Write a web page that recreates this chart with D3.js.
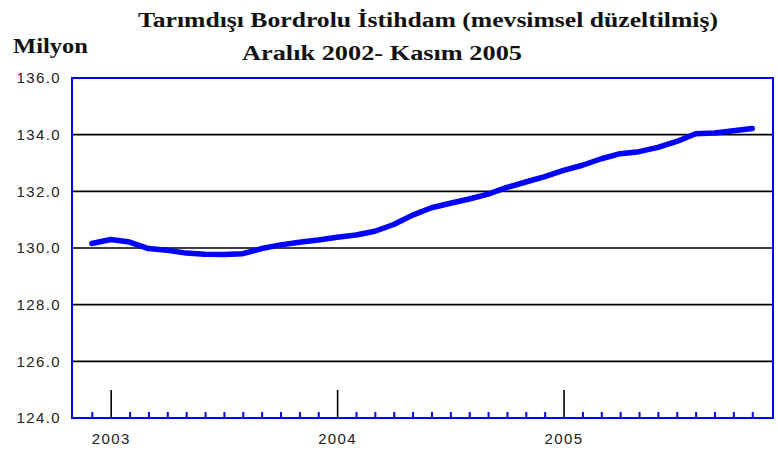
<!DOCTYPE html>
<html>
<head>
<meta charset="utf-8">
<script src="https://cdn.jsdelivr.net/npm/d3@7"></script>
<style>
  body { margin: 0; background: #fff; }
  svg { display: block; }
</style>
</head>
<body>
<div id="root"></div>
<script>
// Data: monthly, Dec 2002 - Nov 2005, millions
const months = [
  "2002-12",
  "2003-01", "2003-02", "2003-03", "2003-04", "2003-05", "2003-06",
  "2003-07", "2003-08", "2003-09", "2003-10", "2003-11", "2003-12",
  "2004-01", "2004-02", "2004-03", "2004-04", "2004-05", "2004-06",
  "2004-07", "2004-08", "2004-09", "2004-10", "2004-11", "2004-12",
  "2005-01", "2005-02", "2005-03", "2005-04", "2005-05", "2005-06",
  "2005-07", "2005-08", "2005-09", "2005-10", "2005-11"
];
const payroll = [
  130.16,
  130.30, 130.21, 129.98, 129.92, 129.82, 129.78,
  129.77, 129.80, 129.98, 130.11, 130.20, 130.28,
  130.38, 130.46, 130.59, 130.83, 131.16, 131.42,
  131.58, 131.73, 131.90, 132.14, 132.33, 132.52,
  132.74, 132.92, 133.15, 133.33, 133.40, 133.55,
  133.76, 134.03, 134.06, 134.14, 134.22
];
const yTicks = [124, 126, 128, 130, 132, 134, 136];

const width = 778;
const height = 453;
const margin = { top: 78, right: 5, bottom: 35, left: 72 };

const svg = d3.select("#root")
  .append("svg")
  .attr("width", width)
  .attr("height", height);

// month index scale (0 = Dec 2002), a little padding each side
const x = d3.scaleLinear()
  .domain([-1.05, months.length + 0.1])
  .range([margin.left, width - margin.right]);

const y = d3.scaleLinear()
  .domain([124, 136])
  .range([height - margin.bottom, margin.top]);

const isJanuary = (i) => months[i].endsWith("-01");
const idx = months.map((d, i) => i);

// Titles
svg.append("text")
  .attr("x", 138)
  .attr("y", 27)
  .attr("textLength", 580)
  .attr("lengthAdjust", "spacingAndGlyphs")
  .style("font", "bold 20px 'Liberation Serif', 'Times New Roman', serif")
  .attr("fill", "#111")
  .text("Tarımdışı Bordrolu İstihdam  (mevsimsel düzeltilmiş)");

svg.append("text")
  .attr("x", 242)
  .attr("y", 60)
  .attr("textLength", 280)
  .attr("lengthAdjust", "spacingAndGlyphs")
  .style("font", "bold 20px 'Liberation Serif', 'Times New Roman', serif")
  .attr("fill", "#111")
  .text("Aralık 2002- Kasım 2005");

svg.append("text")
  .attr("x", 13)
  .attr("y", 53)
  .attr("textLength", 75)
  .attr("lengthAdjust", "spacingAndGlyphs")
  .style("font", "bold 20px 'Liberation Serif', 'Times New Roman', serif")
  .attr("fill", "#111")
  .text("Milyon");

// Gridlines
svg.append("g")
  .selectAll("line")
  .data(yTicks.filter((d) => d > 124 && d < 136))
  .enter()
  .append("line")
  .attr("x1", margin.left)
  .attr("x2", width - margin.right)
  .attr("y1", (d) => y(d))
  .attr("y2", (d) => y(d))
  .attr("stroke", "#000")
  .attr("stroke-width", 1.6);

// Y axis labels
const yAxis = d3.axisLeft(y)
  .tickValues(yTicks)
  .tickFormat(d3.format(".1f"))
  .tickSize(0)
  .tickPadding(11);

svg.append("g")
  .attr("transform", `translate(${margin.left},0)`)
  .call(yAxis)
  .call((g) => g.select(".domain").remove())
  .selectAll("text")
  .style("font", "15px 'Liberation Sans', Arial, sans-serif")
  .attr("letter-spacing", 1.4)
  .attr("fill", "#222");

// Minor month ticks (blue)
const minorAxis = d3.axisBottom(x)
  .tickValues(idx.filter((i) => !isJanuary(i)))
  .tickSizeInner(-6)
  .tickSizeOuter(0)
  .tickFormat("");

svg.append("g")
  .attr("transform", `translate(0,${height - margin.bottom})`)
  .call(minorAxis)
  .call((g) => g.select(".domain").remove())
  .selectAll("line")
  .attr("stroke", "#0000ff")
  .attr("stroke-width", 2);

// Major year ticks (black) with labels
const majorAxis = d3.axisBottom(x)
  .tickValues(idx.filter(isJanuary))
  .tickSizeInner(-28)
  .tickSizeOuter(0)
  .tickPadding(15)
  .tickFormat((i) => months[i].slice(0, 4));

const major = svg.append("g")
  .attr("transform", `translate(0,${height - margin.bottom})`)
  .call(majorAxis)
  .call((g) => g.select(".domain").remove());

major.selectAll("line")
  .attr("stroke", "#000")
  .attr("stroke-width", 1.6);

major.selectAll("text")
  .style("font", "15px 'Liberation Sans', Arial, sans-serif")
  .attr("letter-spacing", 1.4)
  .attr("fill", "#222");

// Plot frame
svg.append("rect")
  .attr("x", margin.left)
  .attr("y", margin.top)
  .attr("width", width - margin.left - margin.right)
  .attr("height", height - margin.top - margin.bottom)
  .attr("fill", "none")
  .attr("stroke", "#0000ff")
  .attr("stroke-width", 2);

// Series line
const line = d3.line()
  .x((d, i) => x(i))
  .y((d) => y(d));

svg.append("path")
  .datum(payroll)
  .attr("d", line)
  .attr("fill", "none")
  .attr("stroke", "#0000ff")
  .attr("stroke-width", 5.5)
  .attr("stroke-linejoin", "round")
  .attr("stroke-linecap", "round");
</script>
</body>
</html>
